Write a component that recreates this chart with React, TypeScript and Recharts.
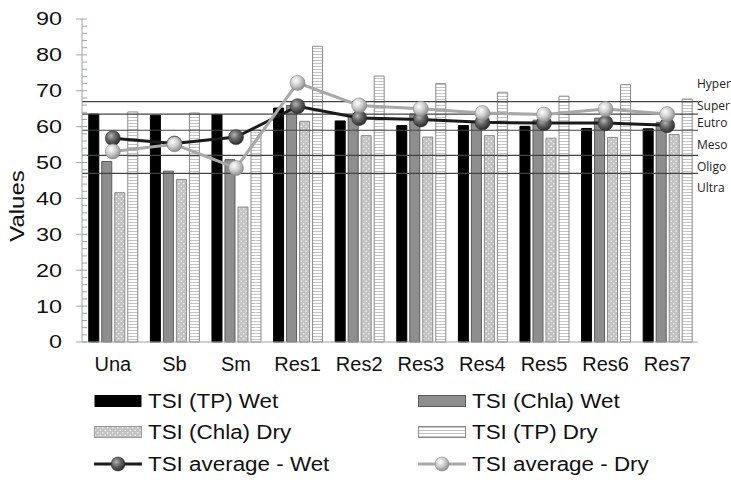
import React from "react";
import {
  ComposedChart,
  Bar,
  Line,
  XAxis,
  YAxis,
  ReferenceLine,
  Legend,
} from "recharts";

const categories = ["Una", "Sb", "Sm", "Res1", "Res2", "Res3", "Res4", "Res5", "Res6", "Res7"];
const tpWet = [63.5, 63.2, 63.4, 65.2, 61.6, 60.3, 60.3, 60.1, 59.5, 59.4];
const chlaWet = [50.3, 47.6, 50.8, 65.9, 62.8, 63.5, 61.5, 61.8, 62.4, 61.2];
const chlaDry = [41.6, 45.3, 37.6, 61.5, 57.5, 57.1, 57.5, 56.8, 57.0, 57.8];
const tpDry = [64.1, 63.8, 59.0, 82.4, 74.1, 72.0, 69.6, 68.5, 71.7, 67.7];
const avgWet = [56.8, 55.3, 57.1, 65.7, 62.4, 62.0, 61.2, 61.0, 61.0, 60.4];
const avgDry = [53.1, 55.1, 48.5, 72.2, 65.9, 65.0, 63.8, 63.4, 64.9, 63.5];

// trophic state limits and the labels written between them
const limits = [67, 63.5, 59, 52, 47];
const trophicNames = ["Hyper", "Super", "Eutro", "Meso", "Oligo", "Ultra"];
const trophicNameAt = [72, 65.9, 61.0, 55.1, 48.8, 43.1];

const yTicks = Array.from({ length: 46 }, (_, i) => i * 2);

const data = categories.map((cat, i) => ({
  cat,
  tpWet: tpWet[i],
  chlaWet: chlaWet[i],
  chlaDry: chlaDry[i],
  tpDry: tpDry[i],
  avgWet: avgWet[i],
  avgDry: avgDry[i],
}));

const AXIS = "#9aa6b2";

const YTick = (props: any) => {
  const { x, y, payload } = props;
  const v = payload.value;
  const major = v % 10 === 0;
  return (
    <g>
      <line x1={major ? x - 6 : x} x2={x + 5} y1={y} y2={y} stroke={AXIS} strokeWidth={1} />
      {major && (
        <text
          transform={`translate(${x - 20},${y}) scale(1.3,1)`}
          textAnchor="end"
          dy="0.36em"
          fontSize={18}
          fill="#111"
        >
          {v}
        </text>
      )}
    </g>
  );
};

const sphere = (grad: string, edge: string) => (props: any) => {
  const { cx, cy, index } = props;
  return <circle key={index} cx={cx} cy={cy} r={7.5} fill={`url(#${grad})`} stroke={edge} strokeWidth={0.6} />;
};

const legendItems = [
  { name: "TSI (TP) Wet", kind: "solid" },
  { name: "TSI (Chla) Wet", kind: "gray" },
  { name: "TSI (Chla) Dry", kind: "dots" },
  { name: "TSI (TP) Dry", kind: "stripes" },
  { name: "TSI average - Wet", kind: "wet" },
  { name: "TSI average - Dry", kind: "dry" },
];

const LegendIcon = ({ kind }: { kind: string }) => (
  <svg width={48} height={16} style={{ display: "block" }}>
    {kind === "solid" && <rect x={0.5} y={2} width={47} height={12} fill="#000" />}
    {kind === "gray" && <rect x={0.5} y={2.5} width={47} height={11} fill="#8e8e8e" stroke="#5a5a5a" />}
    {kind === "dots" && <rect x={0.5} y={2.5} width={47} height={11} fill="url(#dots)" stroke="#9a9a9a" />}
    {kind === "stripes" && <rect x={0.5} y={2.5} width={47} height={11} fill="url(#stripes)" stroke="#8a8a8a" />}
    {kind === "wet" && (
      <g>
        <line x1={0} x2={48} y1={8} y2={8} stroke="#1a1a1a" strokeWidth={3} />
        <circle cx={24} cy={8} r={7} fill="url(#sphereDark)" stroke="#333" strokeWidth={0.6} />
      </g>
    )}
    {kind === "dry" && (
      <g>
        <line x1={0} x2={48} y1={8} y2={8} stroke="#a8a8a8" strokeWidth={3} />
        <circle cx={24} cy={8} r={7} fill="url(#sphereLight)" stroke="#888" strokeWidth={0.6} />
      </g>
    )}
  </svg>
);

const LegendBox = () => (
  <div style={{ position: "relative", width: 731, height: 100 }}>
    {legendItems.map((it, i) => {
      const col = i % 2;
      const row = Math.floor(i / 2);
      return (
        <div
          key={it.name}
          style={{
            position: "absolute",
            left: col ? 418 : 94,
            top: 21 + row * 31.3 - 8,
            display: "flex",
            alignItems: "center",
            height: 16,
          }}
        >
          <LegendIcon kind={it.kind} />
          <span
            style={{
              marginLeft: 6,
              fontSize: 20,
              color: "#111",
              whiteSpace: "nowrap",
              lineHeight: "16px",
              display: "inline-block",
              transform: "scaleX(1.12)",
              transformOrigin: "left center",
            }}
          >
            {it.name}
          </span>
        </div>
      );
    })}
  </div>
);

export default function App() {
  return (
    <div
      style={{
        position: "absolute",
        left: 0,
        top: 0,
        width: 731,
        height: 480,
        background: "#fff",
        overflow: "hidden",
        fontFamily: "'Liberation Sans', Arial, sans-serif",
      }}
    >
      <ComposedChart
        width={731}
        height={480}
        data={data}
        margin={{ top: 19, right: 33, left: 0, bottom: 0 }}
        barGap={3}
        barCategoryGap="11%"
      >
        <defs>
          <pattern id="dots" width={5} height={5} patternUnits="userSpaceOnUse">
            <rect width={5} height={5} fill="#c2c2c2" />
            <circle cx={1.25} cy={1.25} r={0.8} fill="#f4f4f4" />
            <circle cx={3.75} cy={3.75} r={0.8} fill="#f4f4f4" />
          </pattern>
          <pattern id="stripes" width={4} height={3} patternUnits="userSpaceOnUse">
            <rect width={4} height={3} fill="#fff" />
            <rect width={4} height={1} fill="#c4c4c4" />
          </pattern>
          <radialGradient id="sphereDark" cx="38%" cy="35%" r="65%">
            <stop offset="0%" stopColor="#b5b5b5" />
            <stop offset="45%" stopColor="#6a6a6a" />
            <stop offset="100%" stopColor="#2e2e2e" />
          </radialGradient>
          <radialGradient id="sphereLight" cx="38%" cy="35%" r="65%">
            <stop offset="0%" stopColor="#ffffff" />
            <stop offset="50%" stopColor="#d0d0d0" />
            <stop offset="100%" stopColor="#8f8f8f" />
          </radialGradient>
        </defs>
        <XAxis
          dataKey="cat"
          height={38}
          tickLine={false}
          tickSize={0}
          tickMargin={15}
          axisLine={{ stroke: "#a0a0a0" }}
          tick={{ fontSize: 20, fill: "#111" }}
          interval={0}
        />
        <YAxis
          width={82}
          domain={[0, 90]}
          ticks={yTicks}
          interval={0}
          tickLine={false}
          tickSize={0}
          tickMargin={0}
          axisLine={{ stroke: AXIS }}
          tick={<YTick />}
          label={{
            content: () => (
              <text
                transform="translate(17,206) rotate(-90) scale(1.2,1)"
                textAnchor="middle"
                dominantBaseline="central"
                fontSize={20}
                fill="#111"
              >
                Values
              </text>
            ),
          }}
        />
        <Bar dataKey="tpWet" name="TSI (TP) Wet" fill="#000" stroke="#000" isAnimationActive={false} />
        <Bar dataKey="chlaWet" name="TSI (Chla) Wet" fill="#8e8e8e" stroke="#5a5a5a" isAnimationActive={false} />
        <Bar dataKey="chlaDry" name="TSI (Chla) Dry" fill="url(#dots)" stroke="#8a8a8a" isAnimationActive={false} />
        <Bar dataKey="tpDry" name="TSI (TP) Dry" fill="url(#stripes)" stroke="#8a8a8a" isAnimationActive={false} />
        {limits.map((v) => (
          <ReferenceLine key={v} y={v} stroke="#444" strokeWidth={1.2} />
        ))}
        {trophicNames.map((n, i) => (
          <ReferenceLine
            key={n}
            y={trophicNameAt[i]}
            stroke="none"
            label={{ value: n, position: "right", offset: -1, fontSize: 12, fill: "#222", fontFamily: "'Open Sans', sans-serif" }}
          />
        ))}
        <Line
          dataKey="avgWet"
          name="TSI average - Wet"
          stroke="#1a1a1a"
          strokeWidth={3}
          dot={sphere("sphereDark", "#333")}
          activeDot={false}
          isAnimationActive={false}
        />
        <Line
          dataKey="avgDry"
          name="TSI average - Dry"
          stroke="#a8a8a8"
          strokeWidth={3}
          dot={sphere("sphereLight", "#888")}
          activeDot={false}
          isAnimationActive={false}
        />
        <Legend
          verticalAlign="bottom"
          content={() => <LegendBox />}
          wrapperStyle={{ left: 0, bottom: 0, width: 731, height: 100 }}
        />
      </ComposedChart>
    </div>
  );
}
